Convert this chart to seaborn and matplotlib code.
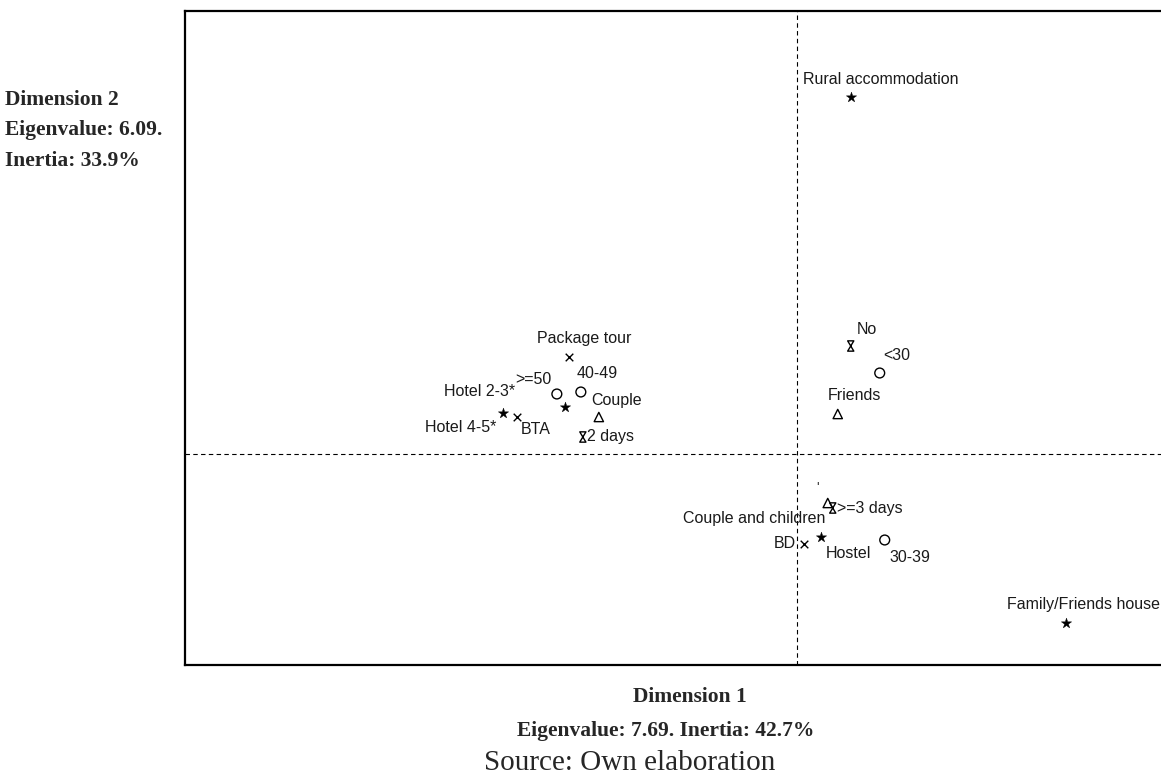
import numpy as np
import pandas as pd
import matplotlib
matplotlib.use("Agg")
import matplotlib.pyplot as plt
import seaborn as sns
from matplotlib.path import Path

# ---------------- data (correspondence analysis coordinates) ----------------
labels = ["Rural accommodation", "Hotel 2-3*", "Hotel 4-5*", "Hostel", "Family/Friends house",
          "Package tour", "BTA", "BD",
          ">=50", "40-49", "<30", "30-39",
          "Couple", "Friends", "Couple and children",
          "2 days", "No", ">=3 days"]
groups = ["accommodation"] * 5 + ["organisation"] * 3 + ["age"] * 4 + ["company"] * 3 + ["stay"] * 3
dim1 = [0.27, -1.16, -1.47, 0.12, 1.345,
        -1.14, -1.40, 0.035,
        -1.20, -1.08, 0.415, 0.44,
        -0.99, 0.205, 0.155,
        -1.07, 0.27, 0.18]
dim2 = [1.785, 0.235, 0.205, -0.415, -0.845,
        0.485, 0.185, -0.45,
        0.30, 0.31, 0.405, -0.43,
        0.185, 0.20, -0.245,
        0.085, 0.54, -0.27]

df = pd.DataFrame({"label": labels, "group": groups, "dim1": dim1, "dim2": dim2})

# ---------------- styling ----------------
hourglass = Path([(-0.6, 1), (0.6, 1), (-0.6, -1), (0.6, -1), (-0.6, 1)],
                 [Path.MOVETO, Path.LINETO, Path.LINETO, Path.LINETO, Path.CLOSEPOLY])
marker_style = {
    "accommodation": dict(marker="*", s=60, color="black", edgecolor="black", linewidth=0.3),
    "organisation": dict(marker="x", s=30, color="black", linewidth=1.0),
    "age": dict(marker="o", s=50, facecolor="none", edgecolor="black", linewidth=1.0),
    "company": dict(marker="^", s=45, facecolor="none", edgecolor="black", linewidth=1.0),
    "stay": dict(marker=hourglass, s=55, facecolor="none", edgecolor="black", linewidth=1.0),
}
# label offsets in pixels (dx, dy, ha)
label_pos = {
    "Rural accommodation": (-48, 17, "left"),
    "Hotel 2-3*": (-50, 15, "right"),
    "Hotel 4-5*": (-6, -14, "right"),
    "Hostel": (5, -16, "left"),
    "Family/Friends house": (-59, 18, "left"),
    "Package tour": (15, 18, "center"),
    "BTA": (4, -13, "left"),
    "BD": (-8, 0, "right"),
    ">=50": (-5, 15, "right"),
    "40-49": (-4, 18, "left"),
    "<30": (4, 18, "left"),
    "30-39": (5, -17, "left"),
    "Couple": (-8, 17, "left"),
    "Friends": (17, 18, "center"),
    "Couple and children": (-2, -15, "right"),
    "2 days": (4, 0, "left"),
    "No": (6, 17, "left"),
    ">=3 days": (4, 0, "left"),
}

sns.set_theme(style="white")
plt.rcParams["font.family"] = ["Liberation Sans", "DejaVu Sans"]

fig = plt.figure(figsize=(11.61, 7.80), dpi=100)
ax = fig.add_axes([185 / 1161, 115 / 780, 1 - 185 / 1161 + 0.01, 654 / 780])

for g, st in marker_style.items():
    sub = df[df["group"] == g]
    sns.scatterplot(data=sub, x="dim1", y="dim2", ax=ax, legend=False, zorder=3, **st)

for _, r in df.iterrows():
    dx, dy, ha = label_pos[r["label"]]
    ax.annotate(r["label"], (r["dim1"], r["dim2"]), xytext=(dx, dy),
                textcoords="offset pixels", ha=ha, va="center",
                fontsize=11.5, color="#1a1a1a", zorder=4)
# stray mark near the origin in the original
ax.annotate("'", (0.105, -0.17), ha="center", va="center", fontsize=10, color="#333333")

ax.axhline(0, color="black", linestyle=(0, (4, 3)), linewidth=0.8, zorder=1)
ax.axvline(0, color="black", linestyle=(0, (4, 3)), linewidth=0.8, zorder=1)

ax.set_xlim(-3.06, 1.88)
ax.set_ylim(-1.055, 2.215)
ax.set_xticks([])
ax.set_yticks([])
ax.set_xlabel("")
ax.set_ylabel("")
for side in ["left", "top", "bottom"]:
    ax.spines[side].set_visible(True)
    ax.spines[side].set_color("black")
    ax.spines[side].set_linewidth(1.6)
ax.spines["right"].set_visible(False)

serif = ["Liberation Serif", "DejaVu Serif"]
bold = dict(family=serif, weight="bold", fontsize=15.5, va="center")
fig.text(5 / 1161, 1 - 100 / 780, "Dimension 2", ha="left", **bold)
fig.text(5 / 1161, 1 - 130 / 780, "Eigenvalue: 6.09.", ha="left", **bold)
fig.text(5 / 1161, 1 - 161 / 780, "Inertia: 33.9%", ha="left", **bold)
fig.text(690 / 1161, 1 - 697 / 780, "Dimension 1", ha="center", **bold)
fig.text(666 / 1161, 1 - 731 / 780, "Eigenvalue: 7.69. Inertia: 42.7%", ha="center", **bold)
fig.text(630 / 1161, 1 - 763 / 780, "Source: Own elaboration", family=serif, fontsize=21, va="center", ha="center")

fig.savefig("out.png", dpi=100)
